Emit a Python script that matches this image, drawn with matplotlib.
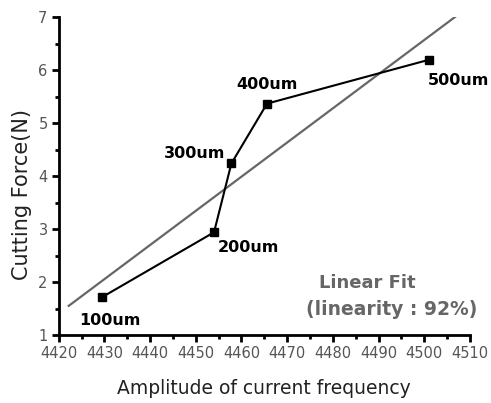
import numpy as np
import matplotlib
matplotlib.use("Agg")
import matplotlib.pyplot as plt
from matplotlib.ticker import MultipleLocator

amplitude = [4429.4, 4454.0, 4457.8, 4465.6, 4501.1]
force = [1.71, 2.94, 4.24, 5.37, 6.20]
labels = ["100um", "200um", "300um", "400um", "500um"]
fit_range = [4422.2, 4510.0]

fig = plt.figure(figsize=(4.91, 4.03), dpi=100)
ax = fig.add_axes([0.1195, 0.1687, 0.8375, 0.7883])

slope, intercept = np.polyfit(amplitude, force, 1)
fx = np.array(fit_range)
ax.plot(fx, slope * fx + intercept, color="#666666", lw=1.6, zorder=2)
ax.plot(amplitude, force, color="black", lw=1.5, marker="s", ms=6, zorder=3)

offsets = [(4431.2, 1.28, "center"), (4454.8, 2.66, "left"), (4456.5, 4.42, "right"),
           (4465.5, 5.74, "center"), (4500.7, 5.81, "left")]
for (tx, ty, ha), lab in zip(offsets, labels):
    ax.text(tx, ty, lab, ha=ha, va="center", fontsize=11.5, fontweight="bold", color="black")

ax.text(4487.5, 1.98, "Linear Fit", ha="center", va="center", fontsize=13,
        fontweight="bold", color="#666666")
ax.text(4492.8, 1.49, "(linearity : 92%)", ha="center", va="center", fontsize=13.5,
        fontweight="bold", color="#666666")

ax.set_xlim(4420, 4510)
ax.set_ylim(1, 7)
ax.xaxis.set_major_locator(MultipleLocator(10))
ax.xaxis.set_minor_locator(MultipleLocator(5))
ax.yaxis.set_major_locator(MultipleLocator(1))
ax.yaxis.set_minor_locator(MultipleLocator(0.5))
for s in ["top", "right"]:
    ax.spines[s].set_visible(False)
for s in ["left", "bottom"]:
    ax.spines[s].set_linewidth(2)
ax.tick_params(which="major", direction="out", length=5, width=2, labelsize=10.5,
               labelcolor="#555555", pad=3)
ax.tick_params(which="minor", direction="out", length=3, width=2)
ax.set_xlabel("Amplitude of current frequency", fontsize=13.5, color="#222222", labelpad=13)
ax.set_ylabel("Cutting Force(N)", fontsize=15, color="#222222", va="center")
ax.yaxis.set_label_coords(-0.089, 0.443)

fig.savefig("out.png", dpi=100, facecolor="white")
